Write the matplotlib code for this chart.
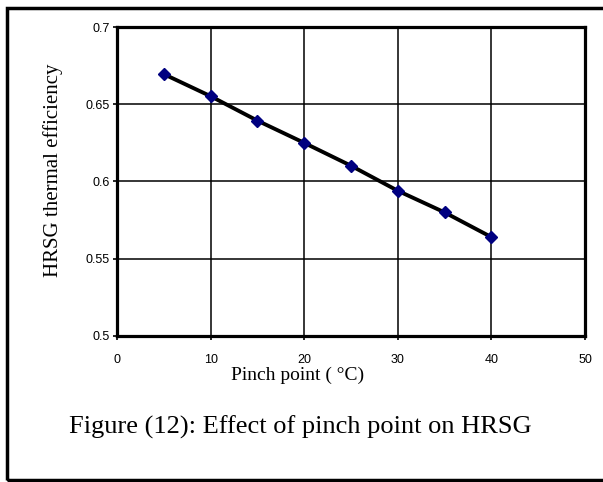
import matplotlib
matplotlib.use("Agg")
import matplotlib.pyplot as plt
from matplotlib.patches import Rectangle

pinch = [5, 10, 15, 20, 25, 30, 35, 40]
efficiency = [0.6695, 0.6552, 0.6394, 0.625, 0.6102, 0.594, 0.58, 0.564]
xticks = [0, 10, 20, 30, 40, 50]
yticks = [0.5, 0.55, 0.6, 0.65, 0.7]
ytick_labels = ["0.5", "0.55", "0.6", "0.65", "0.7"]

W, H = 603, 482
fig = plt.figure(figsize=(W / 100, H / 100), dpi=100)
ax = fig.add_axes([117 / W, 1 - 336 / H, (585 - 117) / W, (336 - 27) / H])

ax.plot(pinch, efficiency, color="black", lw=2.8, marker="D", markersize=6.5,
        markerfacecolor="#000080", markeredgecolor="#000080", zorder=3)

ax.set_xlim(0, 50)
ax.set_ylim(0.5, 0.7)
ax.set_xticks(xticks)
ax.set_yticks(yticks)
ax.set_yticklabels(ytick_labels)
ax.grid(True, color="black", lw=1.1)
ax.set_axisbelow(True)
for s in ax.spines.values():
    s.set_linewidth(2.3)
    s.set_zorder(4)

tick_font = ["Liberation Sans Narrow", "Liberation Sans", "DejaVu Sans"]
for lab in ax.get_xticklabels() + ax.get_yticklabels():
    lab.set_family(tick_font)
    lab.set_fontsize(9)
ax.tick_params(axis="both", direction="out", length=3, width=1.2)
ax.tick_params(axis="x", pad=10)
ax.tick_params(axis="y", pad=2)

serif = ["Liberation Serif", "DejaVu Serif"]
fig.text(53 / W, 1 - 170 / H, "HRSG thermal efficiency", rotation=90,
         ha="center", va="center", family=serif, fontsize=15)
fig.text(298 / W, 1 - 375 / H, "Pinch point ( \u00b0C)", ha="center", va="center",
         family=serif, fontsize=14)
fig.text(300 / W, 1 - 427 / H, "Figure (12): Effect of pinch point on HRSG",
         ha="center", va="center", family=serif, fontsize=19)

fig.patches.append(Rectangle((7 / W, 1 - 480 / H), 1.05, (480 - 8) / H,
                             transform=fig.transFigure, fill=False,
                             edgecolor="black", lw=2.5))

fig.savefig("out.png", dpi=100)
